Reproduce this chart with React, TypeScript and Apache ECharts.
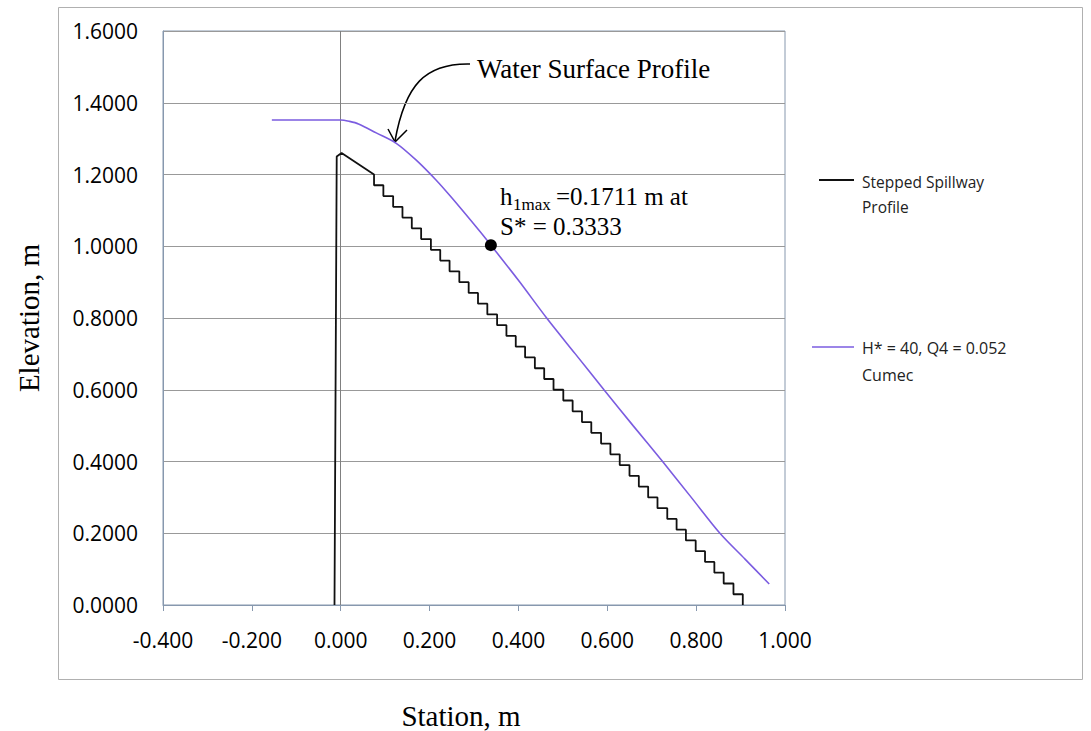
import React, { useEffect, useRef } from "react";
import * as echarts from "echarts";

// Stepped spillway: upstream face and crest
const crestX = [-0.014, -0.009, 0.002];
const crestY = [0.0, 1.25, 1.26];

// Stepped spillway: riser positions (m) and step elevations (m)
const stepRiserX = [
  0.075, 0.096, 0.118, 0.139, 0.16, 0.181, 0.203, 0.224, 0.245, 0.267,
  0.288, 0.309, 0.33, 0.352, 0.373, 0.394, 0.415, 0.437, 0.458, 0.479,
  0.501, 0.522, 0.543, 0.564, 0.586, 0.607, 0.628, 0.65, 0.671, 0.692,
  0.713, 0.735, 0.756, 0.777, 0.799, 0.82, 0.841, 0.862, 0.884, 0.905,
];
const stepLevels = [
  1.2, 1.17, 1.14, 1.11, 1.08, 1.05, 1.02, 0.99, 0.96, 0.93,
  0.9, 0.87, 0.84, 0.81, 0.78, 0.75, 0.72, 0.69, 0.66, 0.63,
  0.6, 0.57, 0.54, 0.51, 0.48, 0.45, 0.42, 0.39, 0.36, 0.33,
  0.3, 0.27, 0.24, 0.21, 0.18, 0.15, 0.12, 0.09, 0.06, 0.03, 0.0,
];

// Water surface profile (H* = 40, Q4 = 0.052 Cumec)
const waterX = [
  -0.155, -0.1, -0.05, 0.0, 0.02, 0.04, 0.08, 0.125, 0.17, 0.215, 0.25,
  0.3135, 0.338, 0.4, 0.4635, 0.528, 0.5925, 0.658, 0.7245, 0.789, 0.8535,
  0.91, 0.9645,
];
const waterY = [
  1.352, 1.352, 1.352, 1.352, 1.348, 1.341, 1.316, 1.287, 1.24, 1.184, 1.135,
  1.041, 1.003, 0.905, 0.8, 0.7, 0.6, 0.5, 0.4, 0.3, 0.2, 0.128, 0.0585,
];

// Maximum point
const maxPointX = 0.338;
const maxPointY = 1.003;

const SERIF = "'Liberation Serif', 'Times New Roman', serif";
const SANS = "'Open Sans', 'Noto Sans', sans-serif";

export default function App() {
  const ref = useRef<HTMLDivElement>(null);

  useEffect(() => {
    if (!ref.current) return;
    const chart = echarts.init(ref.current, null, { renderer: "svg" });

    const spillway: number[][] = [];
    crestX.forEach((x, i) => spillway.push([x, crestY[i]]));
    stepRiserX.forEach((x, k) => {
      spillway.push([x, stepLevels[k]]);
      spillway.push([x, stepLevels[k + 1]]);
    });
    const water = waterX.map((x, i) => [x, waterY[i]]);

    chart.setOption({
      animation: false,
      backgroundColor: "#ffffff",
      grid: {
        left: 163,
        top: 31,
        right: 306,
        bottom: 126,
        show: true,
        borderColor: "#8798ae",
        borderWidth: 1,
        backgroundColor: "transparent",
        outerBoundsMode: "none",
        containLabel: false,
      },
      xAxis: {
        type: "value",
        min: -0.4,
        max: 1.0,
        interval: 0.2,
        name: "Station, m",
        nameLocation: "middle",
        nameGap: 96,
        nameTextStyle: { fontFamily: SERIF, fontSize: 29, color: "#000", padding: [0, 26, 0, 0] },
        axisLine: { show: true, onZero: false, lineStyle: { color: "#8798ae", width: 1 } },
        axisTick: { show: true, inside: false, length: 6, lineStyle: { color: "#8798ae" } },
        axisLabel: {
          formatter: (v: number) => v.toFixed(3),
          fontFamily: SANS,
          fontSize: 21,
          color: "#000",
          margin: 24,
        },
        splitLine: { show: false },
      },
      yAxis: {
        type: "value",
        min: 0,
        max: 1.6,
        interval: 0.2,
        name: "Elevation, m",
        nameLocation: "middle",
        nameGap: 120,
        nameTextStyle: { fontFamily: SERIF, fontSize: 29, color: "#000" },
        axisLine: { show: true, onZero: false, lineStyle: { color: "#8798ae", width: 1 } },
        axisTick: { show: false },
        axisLabel: {
          formatter: (v: number) => v.toFixed(4),
          fontFamily: SANS,
          fontSize: 21,
          color: "#000",
          margin: 25,
        },
        splitLine: { show: true, lineStyle: { color: "#999999", width: 1 } },
      },
      series: [
        {
          name: "Stepped Spillway Profile",
          type: "line",
          data: spillway,
          showSymbol: false,
          symbol: "none",
          lineStyle: { color: "#111111", width: 1.8 },
          z: 3,
          markLine: {
            silent: true,
            symbol: "none",
            label: { show: false },
            lineStyle: { color: "#808080", width: 1, type: "solid" },
            data: [{ xAxis: 0 }],
            z: 1,
          },
        },
        {
          name: "H* = 40, Q4 = 0.052 Cumec",
          type: "line",
          data: water,
          showSymbol: false,
          symbol: "none",
          smooth: 0.3,
          lineStyle: { color: "#7b5ce0", width: 1.6 },
          z: 4,
        },
        {
          name: "max",
          type: "scatter",
          data: [[maxPointX, maxPointY]],
          symbol: "circle",
          symbolSize: 12,
          itemStyle: { color: "#000000", opacity: 1 },
          z: 5,
        },
      ],
      graphic: [
        {
          type: "rect",
          silent: true,
          shape: { x: 58.5, y: 7.5, width: 1024, height: 672 },
          style: { fill: "none", stroke: "#b0b0b0", lineWidth: 1 },
          z: -1,
        },
        // legend
        {
          type: "line",
          shape: { x1: 819, y1: 180, x2: 854, y2: 180 },
          style: { stroke: "#111111", lineWidth: 1.8 },
        },
        {
          type: "text",
          x: 862,
          y: 182,
          style: { text: "Stepped Spillway", fontFamily: SANS, fontSize: 15.5, fill: "#222", verticalAlign: "middle" },
        },
        {
          type: "text",
          x: 862,
          y: 207,
          style: { text: "Profile", fontFamily: SANS, fontSize: 15.5, fill: "#222", verticalAlign: "middle" },
        },
        {
          type: "line",
          shape: { x1: 812, y1: 347, x2: 854, y2: 347 },
          style: { stroke: "#7b5ce0", lineWidth: 1.6 },
        },
        {
          type: "text",
          x: 862,
          y: 348,
          style: { text: "H* = 40, Q4 = 0.052", fontFamily: SANS, fontSize: 16, fill: "#222", verticalAlign: "middle" },
        },
        {
          type: "text",
          x: 862,
          y: 375,
          style: { text: "Cumec", fontFamily: SANS, fontSize: 16, fill: "#222", verticalAlign: "middle" },
        },
        // Water surface annotation with arrow
        {
          type: "text",
          x: 477,
          y: 69,
          style: { text: "Water Surface Profile", fontFamily: SERIF, fontSize: 27, fill: "#000", verticalAlign: "middle" },
        },
        {
          type: "bezierCurve",
          shape: { x1: 470, y1: 64, cpx1: 425, cpy1: 63, cpx2: 405, cpy2: 85, x2: 395, y2: 141 },
          style: { stroke: "#000", lineWidth: 1.5, fill: "none" },
        },
        {
          type: "polyline",
          shape: { points: [[388, 129], [395, 142], [407, 130]] },
          style: { stroke: "#000", lineWidth: 1.5, fill: "none" },
        },
        // h1max annotation
        {
          type: "text",
          x: 500,
          y: 196,
          style: { text: "h", fontFamily: SERIF, fontSize: 25, fill: "#000", verticalAlign: "middle" },
        },
        {
          type: "text",
          x: 513,
          y: 204,
          style: { text: "1max", fontFamily: SERIF, fontSize: 17, fill: "#000", verticalAlign: "middle" },
        },
        {
          type: "text",
          x: 556,
          y: 196,
          style: { text: "=0.1711 m at", fontFamily: SERIF, fontSize: 25, fill: "#000", verticalAlign: "middle" },
        },
        {
          type: "text",
          x: 500,
          y: 226,
          style: { text: "S* = 0.3333", fontFamily: SERIF, fontSize: 25, fill: "#000", verticalAlign: "middle" },
        },
      ],
    });

    return () => chart.dispose();
  }, []);

  return (
    <div
      ref={ref}
      style={{ position: "fixed", left: 0, top: 0, width: 1091, height: 731 }}
    />
  );
}
